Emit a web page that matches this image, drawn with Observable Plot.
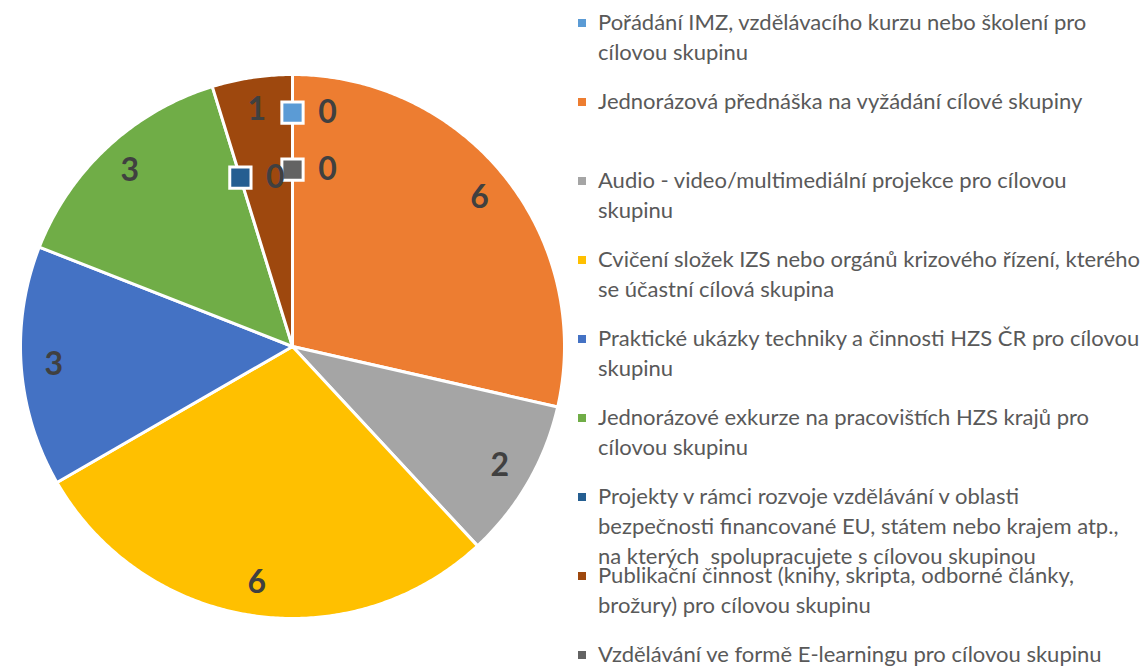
<!DOCTYPE html>
<html>
<head>
<meta charset="utf-8">
<script src="https://cdn.jsdelivr.net/npm/d3@7"></script>
<script src="https://cdn.jsdelivr.net/npm/@observablehq/plot@0.6"></script>
<style>
  html, body { margin: 0; padding: 0; background: #fff; }
  #wrap { display: flex; width: 1146px; height: 666px; overflow: hidden; }
  #legend { position: relative; padding-top: 7px; font-family: Lato, "Open Sans", sans-serif; font-size: 22px; color: #595959; }
  .entry { position: relative; height: 79px; line-height: 30px; padding-left: 23px; white-space: pre; }
  .key { position: absolute; left: 3px; top: 12px; width: 8px; height: 8px; }
</style>
</head>
<body>
<div id="wrap"><div id="chart"></div><div id="legend"></div></div>
<script>
const categories = [
  "Pořádání IMZ, vzdělávacího kurzu nebo školení pro\ncílovou skupinu",
  "Jednorázová přednáška na vyžádání cílové skupiny",
  "Audio - video/multimediální projekce pro cílovou\nskupinu",
  "Cvičení složek IZS nebo orgánů krizového řízení, kterého\nse účastní cílová skupina",
  "Praktické ukázky techniky a činnosti HZS ČR pro cílovou\nskupinu",
  "Jednorázové exkurze na pracovištích HZS krajů pro\ncílovou skupinu",
  "Projekty v rámci rozvoje vzdělávání v oblasti\nbezpečnosti financované EU, státem nebo krajem atp.,\nna kterých  spolupracujete s cílovou skupinou",
  "Publikační činnost (knihy, skripta, odborné články,\nbrožury) pro cílovou skupinu",
  "Vzdělávání ve formě E-learningu pro cílovou skupinu"
];
const values = [0, 6, 2, 6, 3, 3, 0, 1, 0];
const colors = ["#5B9BD5", "#ED7D31", "#A5A5A5", "#FFC000", "#4472C4", "#70AD47", "#255E91", "#9E480E", "#636363"];

const data = categories.map((c, i) => ({cat: c, value: values[i], idx: i}));
const arcs = d3.pie().sort(null).value(d => d.value).startAngle(0).endAngle(2 * Math.PI)(data);

// slice polygons in unit data space (clockwise from 12 o'clock)
const slicePts = [];
for (const a of arcs) {
  if (a.data.value <= 0) continue;
  const n = Math.max(2, Math.ceil((a.endAngle - a.startAngle) / (Math.PI / 360)));
  slicePts.push({cat: a.data.cat, x: 0, y: 0});
  for (let k = 0; k <= n; k++) {
    const t = a.startAngle + (a.endAngle - a.startAngle) * k / n;
    slicePts.push({cat: a.data.cat, x: Math.sin(t), y: Math.cos(t)});
  }
  slicePts.push({cat: a.data.cat, x: 0, y: 0});
}

// labels
let zeroCount = 0;
const labels = arcs.map(a => {
  const mid = (a.startAngle + a.endAngle) / 2;
  let r;
  if (a.data.value > 0) r = 0.88;
  else { r = zeroCount === 0 ? 0.86 : 0.65; zeroCount++; }
  return {cat: a.data.cat, value: a.data.value, x: r * Math.sin(mid), y: r * Math.cos(mid)};
});
const nonzero = labels.filter(d => d.value > 0);
const zeros = labels.filter(d => d.value === 0);

const font = "Lato, 'Open Sans', sans-serif";
const chart = Plot.plot({
  width: 575,
  height: 666,
  margin: 0,
  x: {domain: [-1, 1], range: [20, 564], axis: null},
  y: {domain: [-1, 1], range: [618, 74], axis: null},
  color: {domain: categories, range: colors},
  style: {background: "transparent"},
  marks: [
    Plot.line(slicePts, {x: "x", y: "y", z: "cat", fill: "cat", stroke: "white", strokeWidth: 3, strokeLinejoin: "round", curve: "linear"}),
    Plot.text(nonzero, {x: "x", y: "y", text: d => String(d.value), fill: "#404040", fontSize: 32, fontWeight: "bold", fontFamily: font}),
    Plot.dot(zeros, {x: "x", y: "y", symbol: "square", r: 12, fill: "cat", stroke: "white", strokeWidth: 3}),
    Plot.text(zeros, {x: "x", y: "y", dx: 35, text: d => String(d.value), fill: "#404040", fontSize: 32, fontWeight: "bold", fontFamily: font})
  ]
});
document.getElementById("chart").appendChild(chart);

const legend = document.getElementById("legend");
categories.forEach((c, i) => {
  const e = document.createElement("div");
  e.className = "entry";
  const k = document.createElement("span");
  k.className = "key";
  k.style.background = colors[i];
  e.appendChild(k);
  e.appendChild(document.createTextNode(c));
  legend.appendChild(e);
});
</script>
</body>
</html>
